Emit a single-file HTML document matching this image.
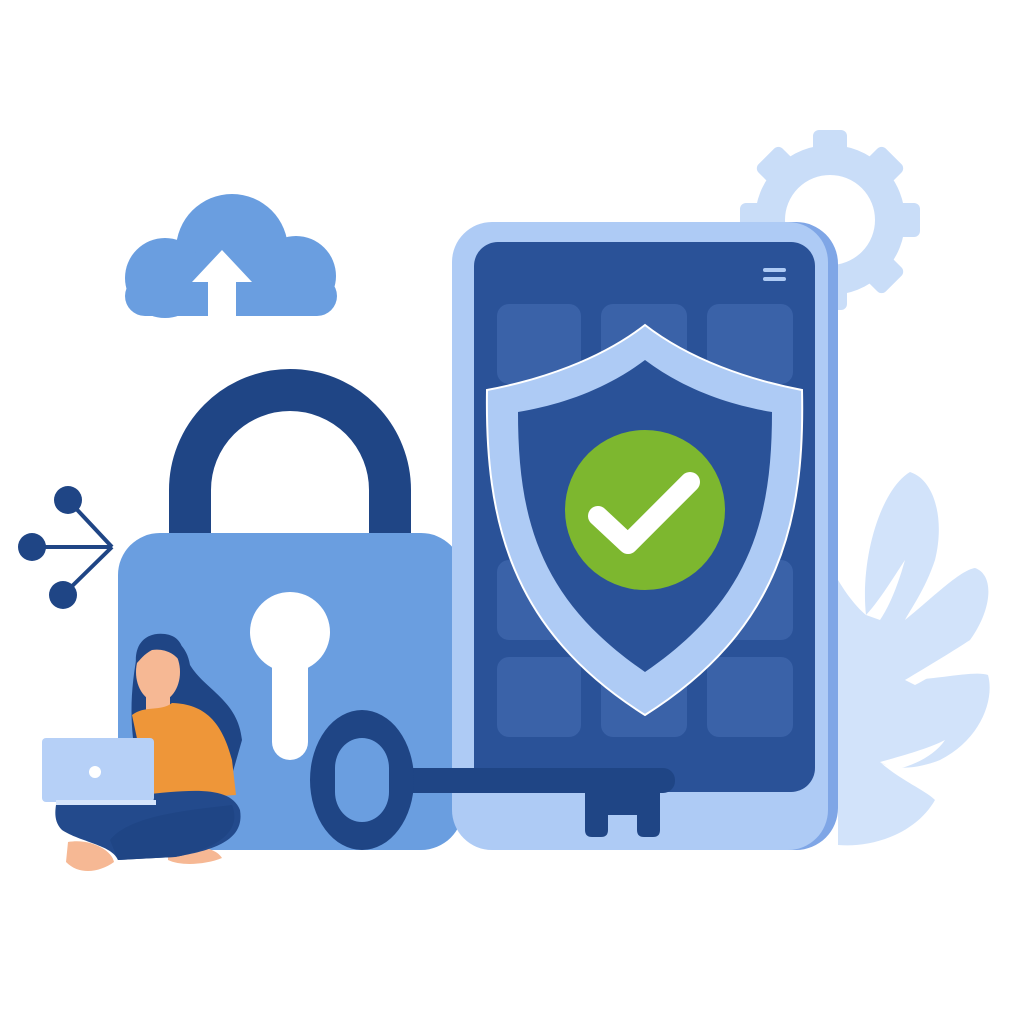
<!DOCTYPE html>
<html><head><meta charset="utf-8"><style>html,body{margin:0;padding:0;background:#fff}svg{display:block}</style></head>
<body>
<svg width="1024" height="1024" viewBox="0 0 1024 1024" xmlns="http://www.w3.org/2000/svg">
<rect width="1024" height="1024" fill="#fff"/>
<!-- gear -->
<g fill="#c9ddf8" transform="translate(830,220)">
  <rect x="-17" y="-90" width="34" height="30" rx="6"/>
  <rect x="-17" y="-90" width="34" height="30" rx="6" transform="rotate(45)"/>
  <rect x="-17" y="-90" width="34" height="30" rx="6" transform="rotate(90)"/>
  <rect x="-17" y="-90" width="34" height="30" rx="6" transform="rotate(135)"/>
  <rect x="-17" y="-90" width="34" height="30" rx="6" transform="rotate(180)"/>
  <rect x="-17" y="-90" width="34" height="30" rx="6" transform="rotate(225)"/>
  <rect x="-17" y="-90" width="34" height="30" rx="6" transform="rotate(270)"/>
  <rect x="-17" y="-90" width="34" height="30" rx="6" transform="rotate(315)"/>
  <circle r="60" fill="none" stroke="#c9ddf8" stroke-width="30"/>
</g>
<!-- leaf -->
<path fill="#d2e3fa" d="M838 580 C850 600 860 610 866 615 C860 560 880 490 910 472 C935 480 945 520 935 560 C925 590 910 610 905 620 C930 600 960 570 975 568 C995 575 992 610 970 640 C950 665 920 675 905 680 C935 680 975 670 988 675 C995 700 980 740 940 760 C915 770 890 770 880 762 C900 780 925 790 935 800 C915 835 870 848 838 845 Z"/>
<path fill="#fff" d="M866 615 C880 600 895 575 905 560 C898 585 890 605 880 620 Z M905 680 C930 665 955 650 970 640 C955 660 935 675 915 685 Z M880 762 C905 755 930 748 945 740 C935 755 915 765 895 770 Z"/>
<!-- cloud -->
<g fill="#6a9ee0">
  <circle cx="232" cy="250" r="56"/>
  <circle cx="165" cy="278" r="40"/>
  <circle cx="296" cy="276" r="40"/>
  <rect x="125" y="276" width="212" height="40" rx="20"/>
</g>
<path fill="#fff" d="M222 250 L252 282 L236 282 L236 316 L208 316 L208 282 L192 282 Z"/>
<!-- share icon -->
<g stroke="#1f4585" stroke-width="4" fill="none">
  <line x1="32" y1="547" x2="112" y2="547"/>
  <line x1="68" y1="500" x2="112" y2="547"/>
  <line x1="63" y1="595" x2="112" y2="547"/>
</g>
<g fill="#1f4585"><circle cx="68" cy="500" r="14"/><circle cx="32" cy="547" r="14"/><circle cx="63" cy="595" r="14"/></g>
<!-- padlock -->
<path d="M190 540 V490 A100 100 0 0 1 390 490 V540" fill="none" stroke="#1f4585" stroke-width="42"/>
<rect x="118" y="533" width="345" height="317" rx="42" fill="#6a9ee0"/>
<circle cx="290" cy="632" r="40" fill="#fff"/>
<rect x="272" y="640" width="36" height="120" rx="18" fill="#fff"/>
<!-- phone -->
<rect x="460" y="222" width="378" height="628" rx="42" fill="#7fa6e6"/>
<rect x="452" y="222" width="376" height="628" rx="40" fill="#aecbf5"/>
<rect x="474" y="242" width="341" height="550" rx="24" fill="#2a5298"/>
<g fill="#aecbf5"><rect x="763" y="268" width="23" height="4" rx="2"/><rect x="763" y="277" width="23" height="4" rx="2"/></g>
<g fill="#3a62a8">
  <rect x="497" y="304" width="84" height="80" rx="12"/><rect x="601" y="304" width="86" height="80" rx="12"/><rect x="707" y="304" width="86" height="80" rx="12"/>
  <rect x="497" y="560" width="84" height="80" rx="12"/><rect x="601" y="560" width="86" height="80" rx="12"/><rect x="707" y="560" width="86" height="80" rx="12"/>
  <rect x="497" y="657" width="84" height="80" rx="12"/><rect x="601" y="657" width="86" height="80" rx="12"/><rect x="707" y="657" width="86" height="80" rx="12"/>
</g>
<!-- shield -->
<path d="M645 325 C600 360 540 380 487 390 C485 520 510 630 645 715 C780 630 805 520 802 390 C750 380 690 360 645 325 Z" fill="#aecbf5" stroke="#fff" stroke-width="2"/>
<path d="M645 360 C605 390 560 405 518 412 C518 520 540 600 645 672 C750 600 772 520 772 412 C730 405 685 390 645 360 Z" fill="#2a5298"/>
<circle cx="645" cy="510" r="80" fill="#7db72f"/>
<path d="M598 516 L628 544 L690 482" fill="none" stroke="#fff" stroke-width="20" stroke-linecap="round" stroke-linejoin="round"/>
<!-- key -->
<g fill="#1f4585">
  <rect x="400" y="768" width="275" height="25" rx="12"/>
  <path d="M585 790 H660 V830 Q660 837 653 837 H644 Q637 837 637 830 V815 H608 V830 Q608 837 601 837 H592 Q585 837 585 830 Z"/>
</g>
<path fill="#1f4585" fill-rule="evenodd" d="M310 780 A52 70 0 1 0 414 780 A52 70 0 1 0 310 780 Z M335 768 A27 30 0 0 1 389 768 V792 A27 30 0 0 1 335 792 Z"/>
<!-- woman -->
<path fill="#1f4585" d="M138 650 C150 628 185 632 190 665 C205 690 238 700 242 740 L232 775 L140 775 C128 730 130 690 138 650 Z"/>
<rect x="146" y="690" width="24" height="25" fill="#f6b894"/>
<ellipse cx="158" cy="672" rx="22" ry="30" fill="#f6b894"/>
<path fill="#1f4585" d="M136 664 C134 640 150 632 165 634 C180 636 186 648 182 664 C176 654 165 648 152 650 C144 654 140 660 136 664 Z"/>
<path fill="#ee9639" d="M132 715 C145 705 160 712 172 703 C205 704 222 722 232 760 L236 795 L150 800 Z"/>
<path fill="#f6b894" d="M68 842 C90 838 112 850 114 862 C100 872 80 876 66 862 Z M168 850 C190 844 215 846 222 858 C205 865 180 866 168 860 Z"/>
<path fill="#234a8c" d="M56 805 C55 785 90 790 140 795 C190 790 230 785 240 810 C245 840 215 850 175 857 L118 860 C112 845 80 842 62 830 C54 822 55 812 56 805 Z"/>
<path fill="#1f4585" d="M110 840 C130 815 190 810 232 805 C242 830 220 848 175 857 L118 860 Z"/>
<rect x="42" y="738" width="112" height="64" rx="4" fill="#b6d0f7"/>
<rect x="56" y="800" width="100" height="5" fill="#d6e5fb"/>
<circle cx="95" cy="772" r="6" fill="#fff"/>
</svg>
</body></html>
